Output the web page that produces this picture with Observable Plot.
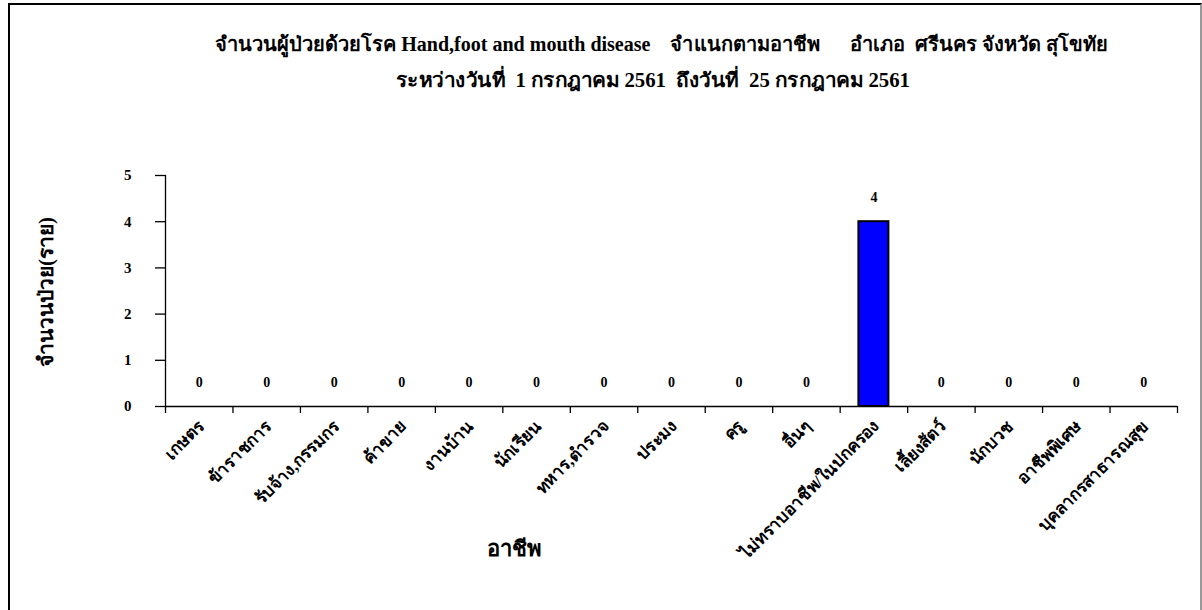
<!DOCTYPE html>
<html>
<head>
<meta charset="utf-8">
<script src="https://cdn.jsdelivr.net/npm/d3@7"></script>
<script src="https://cdn.jsdelivr.net/npm/@observablehq/plot@0.6"></script>
<style>
  html, body { margin: 0; padding: 0; background: #fff; }
  #wrap { position: relative; width: 1202px; height: 610px; overflow: hidden; }
  #border { position: absolute; left: 8px; top: 3px; width: 1194px; height: 620px; border: 2px solid #000; border-right-color: #999; box-sizing: border-box; }
  .title { position: absolute; display: inline-block; transform-origin: 0 50%; font-family: "Liberation Serif", serif; font-weight: bold; font-size: 20px; line-height: 24px; color: #000; white-space: pre; }
  #chart { position: absolute; left: 0; top: 0; }
  #ytitle { position: absolute; left: 45px; top: 292px; transform: translate(-50%, -50%) rotate(-90deg); font-family: "Liberation Serif", serif; font-weight: bold; font-size: 21px; white-space: nowrap; }
  #xtitle { position: absolute; left: 514px; top: 548px; transform: translate(-50%, -50%); font-family: "Noto Sans", "Liberation Sans", sans-serif; font-weight: bold; font-size: 22px; white-space: nowrap; }
</style>
</head>
<body>
<div id="wrap">
  <div id="chart"></div>
  <div id="border"></div>
  <span class="title" id="t1"></span>
  <span class="title" id="t2"></span>
  <div id="ytitle"></div>
  <div id="xtitle"></div>
</div>
<script>
const titleLine1 = "จำนวนผู้ป่วยด้วยโรค Hand,foot and mouth disease    จำแนกตามอาชีพ      อำเภอ  ศรีนคร จังหวัด สุโขทัย";
const titleLine2 = "ระหว่างวันที่  1 กรกฎาคม 2561  ถึงวันที่  25 กรกฎาคม 2561";
const yTitle = "จำนวนป่วย(ราย)";
const xTitle = "อาชีพ";
const categories = ["เกษตร", "ข้าราชการ", "รับจ้าง,กรรมกร", "ค้าขาย", "งานบ้าน", "นักเรียน", "ทหาร,ตำรวจ", "ประมง", "ครู", "อื่นๆ", "ไม่ทราบอาชีพ/ในปกครอง", "เลี้ยงสัตว์", "นักบวช", "อาชีพพิเศษ", "บุคลากรสาธารณสุข"];
const values = [0, 0, 0, 0, 0, 0, 0, 0, 0, 0, 4, 0, 0, 0, 0];
const yTicks = [0, 1, 2, 3, 4, 5];

document.getElementById("ytitle").textContent = yTitle;
document.getElementById("xtitle").textContent = xTitle;

// fit a title line to the span it occupies in the reference
function fitTitle(id, text, x0, x1, cy) {
  const el = document.getElementById(id);
  el.textContent = text;
  const w = el.getBoundingClientRect().width;
  const h = el.getBoundingClientRect().height;
  el.style.left = x0 + "px";
  el.style.top = (cy - h / 2) + "px";
  el.style.transform = `scaleX(${(x1 - x0) / w})`;
}
fitTitle("t1", titleLine1, 215, 1108, 44);
fitTitle("t2", titleLine2, 396, 910, 80);

const data = categories.map((c, i) => ({category: c, value: values[i]}));

const W = 1202, H = 610;
const mL = 165, mR = 25, mT = 175, mB = 204;
const bw = (W - mL - mR) / categories.length;
const tickDepth = 7 / ((H - mT - mB) / 5);

const chart = Plot.plot({
  width: W,
  height: H,
  marginLeft: mL,
  marginRight: mR,
  marginTop: mT,
  marginBottom: mB,
  style: {background: "transparent", color: "#000"},
  x: {domain: categories, padding: 0, round: false, label: null},
  y: {domain: [0, 5], label: null},
  marks: [
    Plot.axisY({ticks: yTicks, tickSize: 10, tickPadding: 24, tickFormat: d => String(d),
      fontSize: 15, fontWeight: "bold", fontFamily: "Liberation Serif", stroke: "#000", strokeWidth: 1.3, label: null}),
    Plot.axisX({tickSize: 0, tickRotate: -45, tickPadding: 17, dx: 2, fontSize: 17, fontWeight: "bold",
      fontFamily: "Liberation Serif", label: null}),
    Plot.barY(data, {x: "category", y: "value", fill: "#0000ff", stroke: "#000", strokeWidth: 2,
      insetLeft: (bw - 30) / 2, insetRight: (bw - 30) / 2}),
    Plot.frame({anchor: "left", stroke: "#000", strokeWidth: 1.3}),
    Plot.ruleY([0], {stroke: "#000", strokeWidth: 1.3}),
    Plot.ruleX(categories, {x: d => d, dx: -bw / 2, y1: 0, y2: -tickDepth, stroke: "#000", strokeWidth: 1.3}),
    Plot.ruleX(categories.slice(-1), {x: d => d, dx: bw / 2, y1: 0, y2: -tickDepth, stroke: "#000", strokeWidth: 1.3}),
    Plot.text(data, {x: "category", y: "value", text: d => String(d.value), dy: -24,
      fontSize: 14, fontWeight: "bold", fontFamily: "Liberation Serif", fill: "#000"})
  ]
});
document.getElementById("chart").appendChild(chart);
</script>
</body>
</html>
